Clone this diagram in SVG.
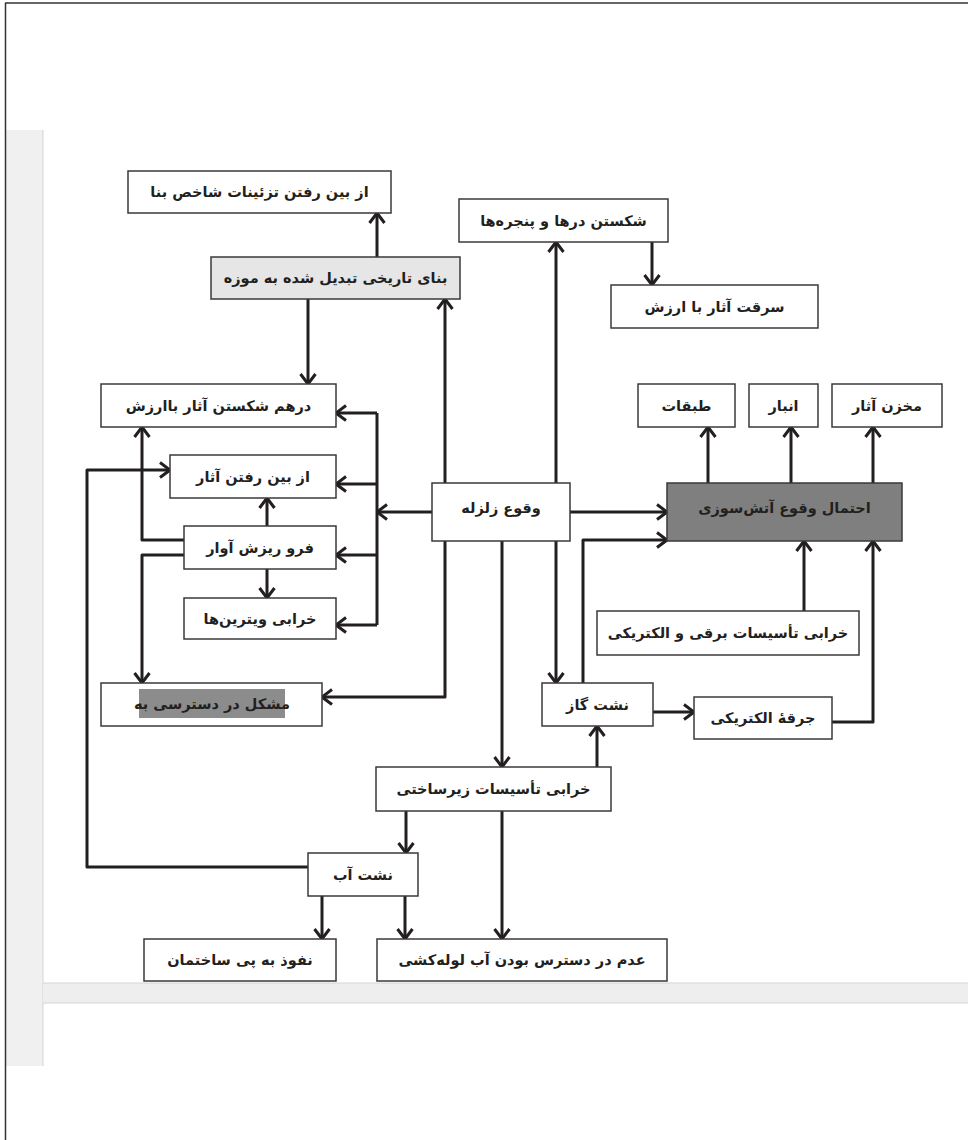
<svg xmlns="http://www.w3.org/2000/svg" width="968" height="1140" viewBox="0 0 968 1140">
<defs>
<marker id="arr" viewBox="0 0 13 18" refX="11.5" refY="9" markerWidth="13" markerHeight="18" markerUnits="userSpaceOnUse" orient="auto">
<path d="M1.5,1.5 L11.5,9 L1.5,16.5" fill="none" stroke="#231f20" stroke-width="3" stroke-linejoin="miter"/>
</marker>
<style>
.bx{fill:#fff;stroke:#3a3a3a;stroke-width:1.5}
.t{font-family:"DejaVu Sans",sans-serif;font-weight:bold;font-size:14.5px;fill:#231f20;text-anchor:middle;dominant-baseline:central;direction:rtl}
.c{fill:none;stroke:#231f20;stroke-width:3;stroke-linejoin:round}
.a{marker-end:url(#arr)}
</style>
</defs>
<rect x="0" y="0" width="968" height="1140" fill="#fff"/>
<g id="page">
<rect x="6" y="130" width="37" height="936" fill="#f0f0f0"/>
<line x1="43" y1="130" x2="43" y2="1066" stroke="#d4d4d4" stroke-width="1"/>
<rect x="43" y="983" width="925" height="20" fill="#eeeeee"/>
<line x1="43" y1="983" x2="968" y2="983" stroke="#d4d4d4" stroke-width="1"/>
<line x1="43" y1="1003" x2="968" y2="1003" stroke="#d4d4d4" stroke-width="1"/>
<line x1="5" y1="3" x2="968" y2="3" stroke="#333" stroke-width="1.5"/>
<line x1="5.5" y1="3" x2="5.5" y2="1140" stroke="#333" stroke-width="1.5"/>
</g>
<g id="connectors">
<path class="c a" d="M377,257 L377,213"/>
<path class="c a" d="M308,299 L308,384"/>
<path class="c a" d="M445,483 L445,299"/>
<path class="c a" d="M556,483 L556,242"/>
<path class="c a" d="M652,242 L652,285"/>
<path class="c a" d="M432,512 L377,512"/>
<path class="c" d="M377,413 L377,625"/>
<path class="c a" d="M377,413 L336,413"/>
<path class="c a" d="M377,484 L336,484"/>
<path class="c a" d="M377,555 L336,555"/>
<path class="c a" d="M377,625 L336,625"/>
<path class="c a" d="M267,526 L267,498"/>
<path class="c a" d="M267,569 L267,598"/>
<path class="c a" d="M184,540 L142,540 L142,427"/>
<path class="c a" d="M184,555 L142,555 L142,683"/>
<path class="c a" d="M445,541 L445,697 L322,697"/>
<path class="c a" d="M502,541 L502,767"/>
<path class="c a" d="M556,541 L556,683"/>
<path class="c a" d="M570,512 L667,512"/>
<path class="c a" d="M583,683 L583,540 L667,540"/>
<path class="c a" d="M804,611 L804,541"/>
<path class="c a" d="M832,722 L873,722 L873,541"/>
<path class="c a" d="M653,712 L694,712"/>
<path class="c a" d="M708,483 L708,427"/>
<path class="c a" d="M791,483 L791,427"/>
<path class="c a" d="M873,483 L873,427"/>
<path class="c a" d="M597,767 L597,726"/>
<path class="c a" d="M406,811 L406,853"/>
<path class="c a" d="M502,811 L502,939"/>
<path class="c a" d="M322,896 L322,939"/>
<path class="c a" d="M405,896 L405,939"/>
<path class="c a" d="M308,867 L87,867 L87,470 L170,470"/>
</g>
<g id="n1"><rect class="bx" x="128" y="171" width="263" height="42"/><text class="t" x="259.5" y="192">از بین رفتن تزئینات شاخص بنا</text></g>
<g id="n2"><rect class="bx" x="211" y="257" width="249" height="42" style="fill:#e6e6e6"/><text class="t" x="335.5" y="278">بنای تاریخی تبدیل شده به موزه</text></g>
<g id="n3"><rect class="bx" x="459" y="199" width="209" height="43"/><text class="t" x="563.5" y="220.5">شکستن درها و پنجره‌ها</text></g>
<g id="n4"><rect class="bx" x="611" y="285" width="207" height="43"/><text class="t" x="714.5" y="306.5">سرقت آثار با ارزش</text></g>
<g id="n5"><rect class="bx" x="101" y="384" width="235" height="43"/><text class="t" x="218.5" y="405.5">درهم شکستن آثار  باارزش</text></g>
<g id="n6"><rect class="bx" x="170" y="455" width="166" height="43"/><text class="t" x="253" y="476.5">از بین رفتن آثار</text></g>
<g id="n7"><rect class="bx" x="184" y="526" width="152" height="43"/><text class="t" x="260" y="547.5">فرو ریزش آوار</text></g>
<g id="n8"><rect class="bx" x="184" y="598" width="152" height="41"/><text class="t" x="260" y="618.5">خرابی ویترین‌ها</text></g>
<g id="n9"><rect class="bx" x="101" y="683" width="221" height="43"/><rect x="139" y="689" width="146" height="29" fill="#8c8c8c"/><text class="t" x="212" y="704">مشکل در دسترسی به</text></g>
<g id="n10"><rect class="bx" x="432" y="483" width="138" height="58"/><text class="t" x="501" y="508">وقوع زلزله</text></g>
<g id="n11"><rect class="bx" x="667" y="483" width="235" height="58" style="fill:#7f7f7f"/><text class="t" x="784.5" y="508">احتمال وقوع آتش‌سوزی</text></g>
<g id="n12"><rect class="bx" x="638" y="384" width="97" height="43"/><text class="t" x="686.5" y="405.5">طبقات</text></g>
<g id="n13"><rect class="bx" x="749" y="384" width="69" height="43"/><text class="t" x="783.5" y="405.5">انبار</text></g>
<g id="n14"><rect class="bx" x="832" y="384" width="110" height="43"/><text class="t" x="887" y="405.5">مخزن آثار</text></g>
<g id="n15"><rect class="bx" x="597" y="611" width="262" height="44"/><text class="t" x="728" y="633">خرابی تأسیسات برقی و الکتریکی</text></g>
<g id="n16"><rect class="bx" x="542" y="683" width="111" height="43"/><text class="t" x="597.5" y="704.5">نشت گاز</text></g>
<g id="n17"><rect class="bx" x="694" y="697" width="138" height="42"/><text class="t" x="763" y="718">جرقهٔ الکتریکی</text></g>
<g id="n18"><rect class="bx" x="376" y="767" width="235" height="44"/><text class="t" x="493.5" y="789">خرابی تأسیسات زیرساختی</text></g>
<g id="n19"><rect class="bx" x="308" y="853" width="110" height="43"/><text class="t" x="363" y="874.5">نشت آب</text></g>
<g id="n20"><rect class="bx" x="144" y="939" width="192" height="42"/><text class="t" x="240" y="960">نفوذ به پی ساختمان</text></g>
<g id="n21"><rect class="bx" x="377" y="939" width="290" height="42"/><text class="t" x="522" y="960">عدم در دسترس بودن آب لوله‌کشی</text></g>
</svg>
